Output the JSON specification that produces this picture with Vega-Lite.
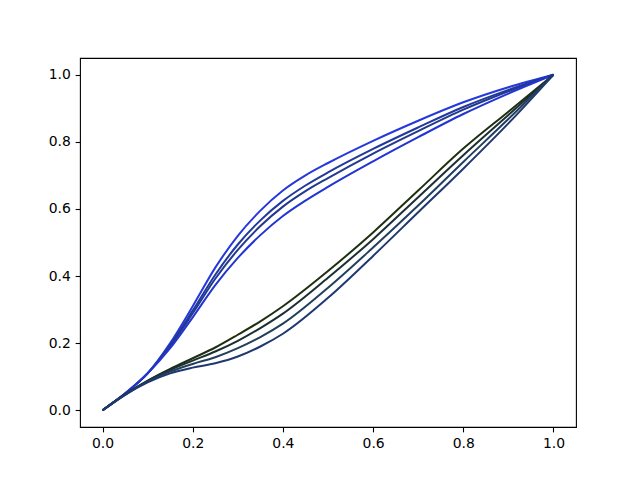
{
  "$schema": "https://vega.github.io/schema/vega-lite/v6.json",
  "width": 496,
  "height": 369,
  "autosize": {"type": "none"},
  "padding": {"left": 80, "top": 58, "right": 64, "bottom": 53},
  "background": "white",
  "config": {
    "view": {"stroke": "black", "strokeWidth": 1.1},
    "axis": {
      "domain": false, "grid": false,
      "tickColor": "black", "tickSize": 4.86, "tickWidth": 1.1,
      "labelFont": "DejaVu Sans", "labelFontSize": 13.9, "labelColor": "black",
      "labelPadding": 4.86, "title": null
    }
  },
  "data": {"values": [
    {"s":"U1","x":0,"y":0},{"s":"U1","x":0.05,"y":0.05},{"s":"U1","x":0.1,"y":0.11},{"s":"U1","x":0.15,"y":0.2},{"s":"U1","x":0.2,"y":0.31},{"s":"U1","x":0.25,"y":0.425},{"s":"U1","x":0.3,"y":0.52},{"s":"U1","x":0.35,"y":0.595},{"s":"U1","x":0.4,"y":0.655},{"s":"U1","x":0.45,"y":0.7},{"s":"U1","x":0.5,"y":0.737},{"s":"U1","x":0.6,"y":0.803},{"s":"U1","x":0.7,"y":0.863},{"s":"U1","x":0.8,"y":0.918},{"s":"U1","x":0.9,"y":0.963},{"s":"U1","x":1,"y":1},
    {"s":"U2","x":0,"y":0},{"s":"U2","x":0.05,"y":0.05},{"s":"U2","x":0.1,"y":0.11},{"s":"U2","x":0.15,"y":0.194},{"s":"U2","x":0.2,"y":0.297},{"s":"U2","x":0.25,"y":0.404},{"s":"U2","x":0.3,"y":0.494},{"s":"U2","x":0.35,"y":0.566},{"s":"U2","x":0.4,"y":0.624},{"s":"U2","x":0.45,"y":0.67},{"s":"U2","x":0.5,"y":0.709},{"s":"U2","x":0.6,"y":0.779},{"s":"U2","x":0.7,"y":0.843},{"s":"U2","x":0.8,"y":0.904},{"s":"U2","x":0.9,"y":0.955},{"s":"U2","x":1,"y":1},
    {"s":"U3","x":0,"y":0},{"s":"U3","x":0.05,"y":0.05},{"s":"U3","x":0.1,"y":0.11},{"s":"U3","x":0.15,"y":0.191},{"s":"U3","x":0.2,"y":0.289},{"s":"U3","x":0.25,"y":0.392},{"s":"U3","x":0.3,"y":0.478},{"s":"U3","x":0.35,"y":0.549},{"s":"U3","x":0.4,"y":0.607},{"s":"U3","x":0.45,"y":0.653},{"s":"U3","x":0.5,"y":0.692},{"s":"U3","x":0.6,"y":0.765},{"s":"U3","x":0.7,"y":0.832},{"s":"U3","x":0.8,"y":0.896},{"s":"U3","x":0.9,"y":0.951},{"s":"U3","x":1,"y":1},
    {"s":"U4","x":0,"y":0},{"s":"U4","x":0.05,"y":0.05},{"s":"U4","x":0.1,"y":0.11},{"s":"U4","x":0.15,"y":0.185},{"s":"U4","x":0.2,"y":0.277},{"s":"U4","x":0.25,"y":0.373},{"s":"U4","x":0.3,"y":0.454},{"s":"U4","x":0.35,"y":0.522},{"s":"U4","x":0.4,"y":0.579},{"s":"U4","x":0.45,"y":0.625},{"s":"U4","x":0.5,"y":0.666},{"s":"U4","x":0.6,"y":0.742},{"s":"U4","x":0.7,"y":0.814},{"s":"U4","x":0.8,"y":0.883},{"s":"U4","x":0.9,"y":0.944},{"s":"U4","x":1,"y":1},
    {"s":"L1","x":0,"y":0},{"s":"L1","x":0.05,"y":0.047},{"s":"L1","x":0.1,"y":0.088},{"s":"L1","x":0.15,"y":0.123},{"s":"L1","x":0.2,"y":0.155},{"s":"L1","x":0.25,"y":0.187},{"s":"L1","x":0.3,"y":0.225},{"s":"L1","x":0.35,"y":0.265},{"s":"L1","x":0.4,"y":0.31},{"s":"L1","x":0.5,"y":0.415},{"s":"L1","x":0.6,"y":0.53},{"s":"L1","x":0.7,"y":0.655},{"s":"L1","x":0.8,"y":0.78},{"s":"L1","x":0.9,"y":0.89},{"s":"L1","x":1,"y":1},
    {"s":"L2","x":0,"y":0},{"s":"L2","x":0.05,"y":0.047},{"s":"L2","x":0.1,"y":0.087},{"s":"L2","x":0.15,"y":0.12},{"s":"L2","x":0.2,"y":0.148},{"s":"L2","x":0.25,"y":0.175},{"s":"L2","x":0.3,"y":0.207},{"s":"L2","x":0.35,"y":0.245},{"s":"L2","x":0.4,"y":0.288},{"s":"L2","x":0.5,"y":0.395},{"s":"L2","x":0.6,"y":0.51},{"s":"L2","x":0.7,"y":0.635},{"s":"L2","x":0.8,"y":0.76},{"s":"L2","x":0.9,"y":0.88},{"s":"L2","x":1,"y":1},
    {"s":"L3","x":0,"y":0},{"s":"L3","x":0.05,"y":0.046},{"s":"L3","x":0.1,"y":0.085},{"s":"L3","x":0.15,"y":0.115},{"s":"L3","x":0.2,"y":0.138},{"s":"L3","x":0.25,"y":0.158},{"s":"L3","x":0.3,"y":0.185},{"s":"L3","x":0.35,"y":0.218},{"s":"L3","x":0.4,"y":0.258},{"s":"L3","x":0.5,"y":0.365},{"s":"L3","x":0.6,"y":0.485},{"s":"L3","x":0.7,"y":0.61},{"s":"L3","x":0.8,"y":0.74},{"s":"L3","x":0.9,"y":0.868},{"s":"L3","x":1,"y":1},
    {"s":"L4","x":0,"y":0},{"s":"L4","x":0.05,"y":0.046},{"s":"L4","x":0.1,"y":0.083},{"s":"L4","x":0.15,"y":0.11},{"s":"L4","x":0.2,"y":0.127},{"s":"L4","x":0.25,"y":0.14},{"s":"L4","x":0.3,"y":0.16},{"s":"L4","x":0.35,"y":0.19},{"s":"L4","x":0.4,"y":0.228},{"s":"L4","x":0.5,"y":0.335},{"s":"L4","x":0.6,"y":0.46},{"s":"L4","x":0.7,"y":0.59},{"s":"L4","x":0.8,"y":0.72},{"s":"L4","x":0.9,"y":0.855},{"s":"L4","x":1,"y":1}
  ]},
  "mark": {"type": "line", "interpolate": "monotone"},
  "encoding": {
    "x": {"field": "x", "type": "quantitative", "scale": {"domain": [-0.05, 1.05], "nice": false, "zero": false}, "axis": {"values": [0, 0.2, 0.4, 0.6, 0.8, 1.0], "format": ".1f"}},
    "y": {"field": "y", "type": "quantitative", "scale": {"domain": [-0.05, 1.05], "nice": false, "zero": false}, "axis": {"values": [0, 0.2, 0.4, 0.6, 0.8, 1.0], "format": ".1f"}},
    "color": {"field": "s", "type": "nominal", "legend": null, "scale": {"domain": ["U1","U2","U3","U4","L1","L2","L3","L4"], "range": ["#2438de","#22399a","#22398f","#2235d2","#1e3010","#1c3033","#223f5c","#1f3872"]}},
    "strokeWidth": {"field": "s", "type": "nominal", "legend": null, "scale": {"domain": ["U1","U2","U3","U4","L1","L2","L3","L4"], "range": [2, 2, 2, 2.8, 2, 2.8, 2, 2]}},
    "order": {"field": "x", "type": "quantitative"}
  }
}
